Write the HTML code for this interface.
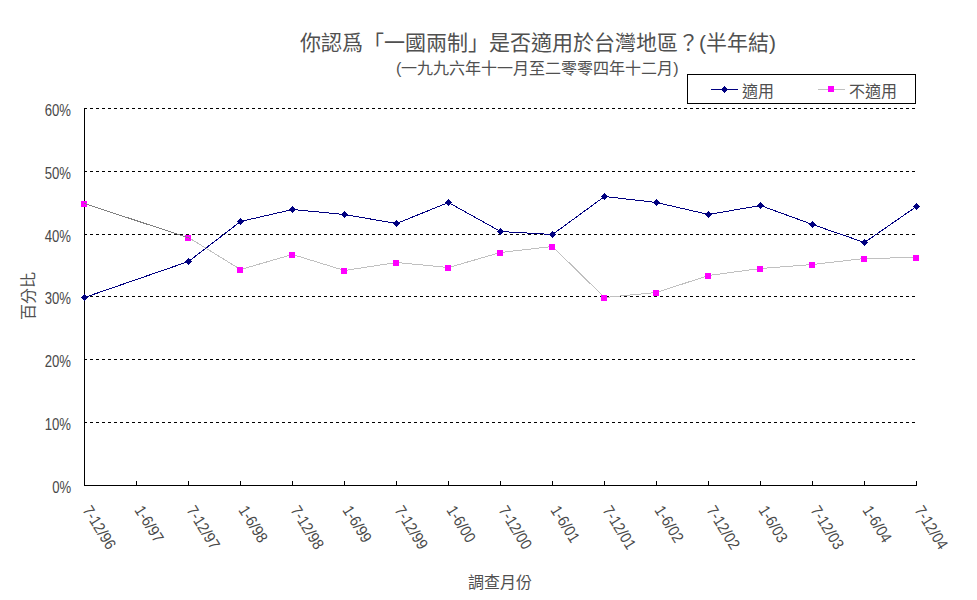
<!DOCTYPE html>
<html lang="zh-TW"><head><meta charset="utf-8">
<style>
html,body{margin:0;padding:0;background:#fff;}
body{width:977px;height:600px;position:relative;overflow:hidden;font-family:"Liberation Sans",sans-serif;color:#000;}
svg{position:absolute;left:0;top:0;}
.t{position:absolute;white-space:nowrap;line-height:1;color:#505050;}
#title{left:300px;top:32px;font-size:21px;color:#505050;}
#sub{left:396px;top:61px;font-size:16px;}
.yl{position:absolute;right:906px;font-size:16px;line-height:20px;color:#484848;white-space:nowrap;transform-origin:100% 50%;transform:scaleX(0.82);}
.xl{position:absolute;top:503px;font-size:16px;line-height:1;color:#484848;white-space:nowrap;transform-origin:0 0;transform:rotate(58deg) scaleX(0.885);}
#ytitle{left:21px;top:320px;font-size:16px;transform-origin:0 0;transform:rotate(-90deg);}
#xtitle{left:468px;top:575px;font-size:16px;}
#lg1{left:742px;top:84px;font-size:16px;}
#lg2{left:849px;top:84px;font-size:16px;}
</style></head><body>
<svg width="977" height="600" viewBox="0 0 977 600" shape-rendering="crispEdges">
<line x1="84" y1="422.5" x2="917" y2="422.5" stroke="#000" stroke-dasharray="3 3"/>
<line x1="84" y1="359.5" x2="917" y2="359.5" stroke="#000" stroke-dasharray="3 3"/>
<line x1="84" y1="296.5" x2="917" y2="296.5" stroke="#000" stroke-dasharray="3 3"/>
<line x1="84" y1="234.5" x2="917" y2="234.5" stroke="#000" stroke-dasharray="3 3"/>
<line x1="84" y1="171.5" x2="917" y2="171.5" stroke="#000" stroke-dasharray="3 3"/>
<line x1="84" y1="108.5" x2="917" y2="108.5" stroke="#000" stroke-dasharray="3 3"/>
<line x1="84.5" y1="108" x2="84.5" y2="486" stroke="#000"/>
<line x1="84" y1="485.5" x2="917" y2="485.5" stroke="#000"/>
<path d="M84.5 481V485M136.5 481V485M188.5 481V485M240.5 481V485M292.5 481V485M344.5 481V485M396.5 481V485M448.5 481V485M500.5 481V485M552.5 481V485M604.5 481V485M656.5 481V485M708.5 481V485M760.5 481V485M812.5 481V485M864.5 481V485M916.5 481V485" stroke="#000"/>
<polyline points="188.5,237.5 240.5,269.5 292.5,254.5 344.5,270.5 396.5,262.5 448.5,267.5 500.5,252.5 552.5,246.5 604.5,297.5 656.5,292.5 708.5,275.5 760.5,268.5 812.5,264.5 864.5,258.5 916.5,257.5" fill="none" stroke="#c0c0c0"/>
<rect x="81" y="201" width="6" height="6" fill="#f0f"/>
<rect x="185" y="235" width="6" height="6" fill="#f0f"/>
<rect x="237" y="267" width="6" height="6" fill="#f0f"/>
<rect x="289" y="252" width="6" height="6" fill="#f0f"/>
<rect x="341" y="268" width="6" height="6" fill="#f0f"/>
<rect x="393" y="260" width="6" height="6" fill="#f0f"/>
<rect x="445" y="265" width="6" height="6" fill="#f0f"/>
<rect x="497" y="250" width="6" height="6" fill="#f0f"/>
<rect x="549" y="244" width="6" height="6" fill="#f0f"/>
<rect x="601" y="295" width="6" height="6" fill="#f0f"/>
<rect x="653" y="290" width="6" height="6" fill="#f0f"/>
<rect x="705" y="273" width="6" height="6" fill="#f0f"/>
<rect x="757" y="266" width="6" height="6" fill="#f0f"/>
<rect x="809" y="262" width="6" height="6" fill="#f0f"/>
<rect x="861" y="256" width="6" height="6" fill="#f0f"/>
<rect x="913" y="255" width="6" height="6" fill="#f0f"/>
<line x1="84.5" y1="203.5" x2="190.5" y2="238.5" stroke="#808080"/>
<polyline points="84.5,297.5 188.5,261.5 240.5,221.5 292.5,209.5 344.5,214.5 396.5,223.5 448.5,202.5 500.5,231.5 552.5,234.5 604.5,196.5 656.5,202.5 708.5,214.5 760.5,205.5 812.5,224.5 864.5,242.5 916.5,206.5" fill="none" stroke="#000080"/>
<path d="M84.5 294.0L88.0 297.5L84.5 301.0L81.0 297.5Z" fill="#000080"/>
<path d="M188.5 258.0L192.0 261.5L188.5 265.0L185.0 261.5Z" fill="#000080"/>
<path d="M240.5 218.0L244.0 221.5L240.5 225.0L237.0 221.5Z" fill="#000080"/>
<path d="M292.5 206.0L296.0 209.5L292.5 213.0L289.0 209.5Z" fill="#000080"/>
<path d="M344.5 211.0L348.0 214.5L344.5 218.0L341.0 214.5Z" fill="#000080"/>
<path d="M396.5 220.0L400.0 223.5L396.5 227.0L393.0 223.5Z" fill="#000080"/>
<path d="M448.5 199.0L452.0 202.5L448.5 206.0L445.0 202.5Z" fill="#000080"/>
<path d="M500.5 228.0L504.0 231.5L500.5 235.0L497.0 231.5Z" fill="#000080"/>
<path d="M552.5 231.0L556.0 234.5L552.5 238.0L549.0 234.5Z" fill="#000080"/>
<path d="M604.5 193.0L608.0 196.5L604.5 200.0L601.0 196.5Z" fill="#000080"/>
<path d="M656.5 199.0L660.0 202.5L656.5 206.0L653.0 202.5Z" fill="#000080"/>
<path d="M708.5 211.0L712.0 214.5L708.5 218.0L705.0 214.5Z" fill="#000080"/>
<path d="M760.5 202.0L764.0 205.5L760.5 209.0L757.0 205.5Z" fill="#000080"/>
<path d="M812.5 221.0L816.0 224.5L812.5 228.0L809.0 224.5Z" fill="#000080"/>
<path d="M864.5 239.0L868.0 242.5L864.5 246.0L861.0 242.5Z" fill="#000080"/>
<path d="M916.5 203.0L920.0 206.5L916.5 210.0L913.0 206.5Z" fill="#000080"/>
<rect x="687.5" y="74.5" width="228" height="29" fill="#fff" stroke="#000"/>
<line x1="711" y1="89.5" x2="738" y2="89.5" stroke="#000080"/>
<path d="M724.5 86L728 89.5L724.5 93L721 89.5Z" fill="#000080"/>
<line x1="818" y1="89.5" x2="845" y2="89.5" stroke="#c0c0c0"/>
<rect x="828" y="86" width="6" height="6" fill="#f0f"/>
</svg>
<div class="t" id="title">你認爲「一國兩制」是否適用於台灣地區？(半年結)</div>
<div class="t" id="sub">(一九九六年十一月至二零零四年十二月)</div>
<div class="t" id="lg1">適用</div>
<div class="t" id="lg2">不適用</div>
<div class="t" id="ytitle">百分比</div>
<div class="t" id="xtitle">調查月份</div>
<div class="yl" style="top:478px">0%</div>
<div class="yl" style="top:415px">10%</div>
<div class="yl" style="top:352px">20%</div>
<div class="yl" style="top:289px">30%</div>
<div class="yl" style="top:227px">40%</div>
<div class="yl" style="top:164px">50%</div>
<div class="yl" style="top:101px">60%</div>
<div class="xl" style="left:93px">7-12/96</div>
<div class="xl" style="left:145px">1-6/97</div>
<div class="xl" style="left:197px">7-12/97</div>
<div class="xl" style="left:249px">1-6/98</div>
<div class="xl" style="left:301px">7-12/98</div>
<div class="xl" style="left:353px">1-6/99</div>
<div class="xl" style="left:405px">7-12/99</div>
<div class="xl" style="left:457px">1-6/00</div>
<div class="xl" style="left:509px">7-12/00</div>
<div class="xl" style="left:561px">1-6/01</div>
<div class="xl" style="left:613px">7-12/01</div>
<div class="xl" style="left:665px">1-6/02</div>
<div class="xl" style="left:717px">7-12/02</div>
<div class="xl" style="left:769px">1-6/03</div>
<div class="xl" style="left:821px">7-12/03</div>
<div class="xl" style="left:873px">1-6/04</div>
<div class="xl" style="left:925px">7-12/04</div>

</body></html>
